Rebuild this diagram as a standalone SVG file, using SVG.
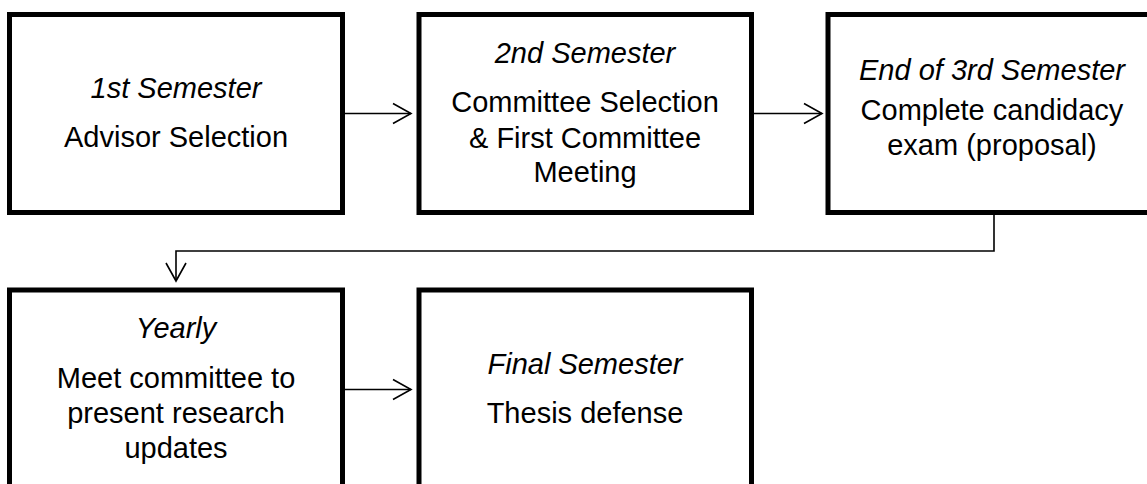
<svg xmlns="http://www.w3.org/2000/svg" width="1147" height="484" viewBox="0 0 1147 484">
<defs>
<style>
.box{fill:#fff;stroke:#000;stroke-width:5}
.t{font-family:"Liberation Sans",Arial,sans-serif;font-size:29px;fill:#000;text-anchor:middle}
.i{font-style:italic}
.c{fill:none;stroke:#000;stroke-width:1.6}
</style>
<marker id="arr" markerUnits="userSpaceOnUse" markerWidth="24" markerHeight="24" refX="18" refY="10" orient="auto" overflow="visible">
<path d="M0,0 L18,10 L0,20" fill="none" stroke="#000" stroke-width="1.6"/>
</marker>
</defs>
<rect width="1147" height="484" fill="#fff"/>
<g id="connectors">
<line class="c" x1="345" y1="113.5" x2="411" y2="113.5" marker-end="url(#arr)"/>
<line class="c" x1="754" y1="113.5" x2="822" y2="113.5" marker-end="url(#arr)"/>
<path class="c" d="M994,215 V251 H176 V281" marker-end="url(#arr)"/>
<line class="c" x1="345" y1="389.5" x2="411" y2="389.5" marker-end="url(#arr)"/>
</g>
<g id="node1">
<rect class="box" x="9.5" y="14.5" width="333" height="198"/>
<text class="t i" x="176" y="98">1st Semester</text>
<text class="t" x="176" y="146.5">Advisor Selection</text>
</g>
<g id="node2">
<rect class="box" x="419" y="14.5" width="332.5" height="198"/>
<text class="t i" x="585" y="63">2nd Semester</text>
<text class="t" x="585" y="111.5">Committee Selection</text>
<text class="t" x="585" y="148">&amp; First Committee</text>
<text class="t" x="585" y="181.5">Meeting</text>
</g>
<g id="node3">
<rect class="box" x="828" y="14.5" width="332" height="198"/>
<text class="t i" x="992" y="80">End of 3rd Semester</text>
<text class="t" x="992" y="120">Complete candidacy</text>
<text class="t" x="992" y="155">exam (proposal)</text>
</g>
<g id="node4">
<rect class="box" x="9.5" y="290" width="333" height="220"/>
<text class="t i" x="176" y="338">Yearly</text>
<text class="t" x="176" y="387.5">Meet committee to</text>
<text class="t" x="176" y="422.5">present research</text>
<text class="t" x="176" y="458">updates</text>
</g>
<g id="node5">
<rect class="box" x="419" y="290" width="332.5" height="220"/>
<text class="t i" x="585" y="374">Final Semester</text>
<text class="t" x="585" y="422.5">Thesis defense</text>
</g>
</svg>
